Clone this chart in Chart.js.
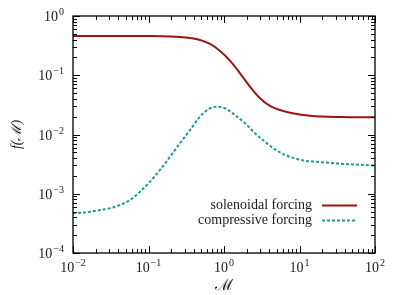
<!DOCTYPE html>
<html>
<head>
<meta charset="utf-8">
<script src="https://cdn.jsdelivr.net/npm/chart.js@4/dist/chart.umd.min.js"></script>
<style>
  html, body { margin: 0; padding: 0; background: #fff; }
  #wrap { width: 399px; height: 295px; }
</style>
</head>
<body>
<div id="wrap"><canvas id="fm-chart" width="399" height="295"></canvas></div>
<script>
// values
const solenoidal_mach = [0.01, 0.05, 0.1, 0.193, 0.261, 0.355, 0.481, 0.653, 0.886, 1.2, 1.63, 2.21, 3.0, 4.06, 5.52, 7.48, 13.8, 34, 100];
const solenoidal_f = [0.46, 0.46, 0.458, 0.451, 0.442, 0.425, 0.394, 0.337, 0.257, 0.177, 0.108, 0.0641, 0.0408, 0.0303, 0.0259, 0.0233, 0.0207, 0.0197, 0.0195];

const compressive_mach = [0.01, 0.015, 0.0228, 0.032, 0.042, 0.0569, 0.0771, 0.1047, 0.142, 0.193, 0.261, 0.355, 0.481, 0.62, 0.8, 1.03, 1.4, 1.9, 2.58, 3.49, 4.73, 6.43, 8.71, 11.8, 15, 20, 34, 100];
const compressive_f = [4.7e-4, 4.86e-4, 5.3e-4, 5.75e-4, 6.46e-4, 7.84e-4, 1.08e-3, 1.6e-3, 2.52e-3, 4.22e-3, 7.11e-3, 0.0119, 0.0200, 0.0266, 0.0294, 0.0277, 0.0213, 0.0155, 0.01047, 0.00755, 0.00562, 0.00451, 0.00396, 0.00361, 0.0035, 0.0034, 0.00322, 0.003];

const x_decades = [-2, -1, 0, 1, 2];
const y_decades = [-4, -3, -2, -1, 0];
const series_labels = ["solenoidal forcing", "compressive forcing"];

const serif = "'Liberation Serif', 'DejaVu Serif', serif";
const text_colour = "#1a1a1a";

function toPoints(xs, ys) {
    return xs.map((x, i) => ({x: x, y: ys[i]}));
}

function expText(e) {
    return e < 0 ? "\u2212" + Math.abs(e) : String(e);
}

// draws "10" with a raised exponent; align is "center" or "right"
function drawPow(ctx, e, x, y, align) {
    ctx.font = "14px " + serif;
    const base_w = ctx.measureText("10").width;
    ctx.font = "10px " + serif;
    const exp = expText(e);
    const exp_w = ctx.measureText(exp).width + 1;
    const total = base_w + exp_w;
    const left = align === "right" ? x - total : x - total / 2;
    ctx.textAlign = "left";
    ctx.textBaseline = "alphabetic";
    ctx.font = "14px " + serif;
    ctx.fillText("10", left, y);
    ctx.font = "10px " + serif;
    ctx.fillText(exp, left + base_w + 1, y - 6);
}

// frame, inward ticks on all four sides, tick labels and the legend
const framePlugin = {
    id: "frame",
    afterDatasetsDraw(chart) {
        const ctx = chart.ctx;
        const a = chart.chartArea;
        const xs = chart.scales.x;
        const ys = chart.scales.y;
        ctx.save();
        ctx.strokeStyle = "#000";
        ctx.lineWidth = 1.3;
        ctx.strokeRect(a.left, a.top, a.right - a.left, a.bottom - a.top);

        ctx.lineWidth = 1;
        ctx.beginPath();
        const x_last = x_decades[x_decades.length - 1];
        for (let d = x_decades[0]; d <= x_last; d++) {
            for (let m = 1; m <= (d === x_last ? 1 : 9); m++) {
                const px = Math.round(xs.getPixelForValue(m * Math.pow(10, d))) + 0.5;
                const len = m === 1 ? 7 : 4;
                ctx.moveTo(px, a.bottom); ctx.lineTo(px, a.bottom - len);
                ctx.moveTo(px, a.top); ctx.lineTo(px, a.top + len);
            }
        }
        const y_last = y_decades[y_decades.length - 1];
        for (let d = y_decades[0]; d <= y_last; d++) {
            for (let m = 1; m <= (d === y_last ? 1 : 9); m++) {
                const py = Math.round(ys.getPixelForValue(m * Math.pow(10, d))) + 0.5;
                const len = m === 1 ? 7 : 4;
                ctx.moveTo(a.left, py); ctx.lineTo(a.left + len, py);
                ctx.moveTo(a.right, py); ctx.lineTo(a.right - len, py);
            }
        }
        ctx.stroke();

        // decade labels
        ctx.fillStyle = text_colour;
        x_decades.forEach(d => {
            drawPow(ctx, d, xs.getPixelForValue(Math.pow(10, d)), a.bottom + 19, "center");
        });
        y_decades.forEach(d => {
            drawPow(ctx, d, a.left - 9, ys.getPixelForValue(Math.pow(10, d)) + 5, "right");
        });

        // legend, bottom right inside the plot
        ctx.font = "14px " + serif;
        ctx.textAlign = "right";
        ctx.textBaseline = "middle";
        const rows = [205, 220];
        chart.data.datasets.forEach((ds, i) => {
            ctx.fillStyle = text_colour;
            ctx.fillText(ds.label, 312, rows[i]);
            ctx.strokeStyle = ds.borderColor;
            ctx.lineWidth = ds.borderWidth;
            ctx.setLineDash(ds.borderDash || []);
            ctx.beginPath();
            ctx.moveTo(322, rows[i] + 0.5);
            ctx.lineTo(357, rows[i] + 0.5);
            ctx.stroke();
        });
        ctx.restore();
    }
};

const fm_data = {
    datasets: [{
        label: series_labels[0],
        data: toPoints(solenoidal_mach, solenoidal_f),
        borderColor: "#9e1214",
        backgroundColor: "#9e1214",
        borderWidth: 2,
        pointRadius: 0,
        fill: false,
        cubicInterpolationMode: "monotone"
    },
    {
        label: series_labels[1],
        data: toPoints(compressive_mach, compressive_f),
        borderColor: "#1c9a9c",
        backgroundColor: "#1c9a9c",
        borderWidth: 2,
        borderDash: [3, 2],
        pointRadius: 0,
        fill: false,
        cubicInterpolationMode: "monotone"
    }]
};

const config_fm = {
    type: "line",
    data: fm_data,
    options: {
        responsive: false,
        animation: false,
        layout: {
            padding: { top: 16, right: 24, left: 0, bottom: 0 }
        },
        plugins: {
            legend: { display: false },
            tooltip: { enabled: false }
        },
        scales: {
            x: {
                type: "logarithmic",
                min: Math.pow(10, x_decades[0]),
                max: Math.pow(10, x_decades[x_decades.length - 1]),
                grid: { display: false },
                border: { display: false },
                ticks: { display: false },
                title: {
                    display: true,
                    text: "\u2133",
                    color: text_colour,
                    font: { family: serif, size: 16 },
                    padding: { top: 0, bottom: 0 }
                },
                afterFit: (scale) => { scale.height = 42; }
            },
            y: {
                type: "logarithmic",
                min: Math.pow(10, y_decades[0]),
                max: Math.pow(10, y_decades[y_decades.length - 1]),
                grid: { display: false },
                border: { display: false },
                ticks: { display: false },
                title: {
                    display: true,
                    text: "f(\u2133)",
                    color: text_colour,
                    font: { family: serif, size: 14, style: "italic" },
                    padding: { top: 9, bottom: 0 }
                },
                afterFit: (scale) => { scale.width = 73; }
            }
        }
    },
    plugins: [framePlugin]
};

const ctx_fm = document.getElementById("fm-chart").getContext("2d");
const fm_chart = new Chart(ctx_fm, config_fm);
</script>
</body>
</html>
